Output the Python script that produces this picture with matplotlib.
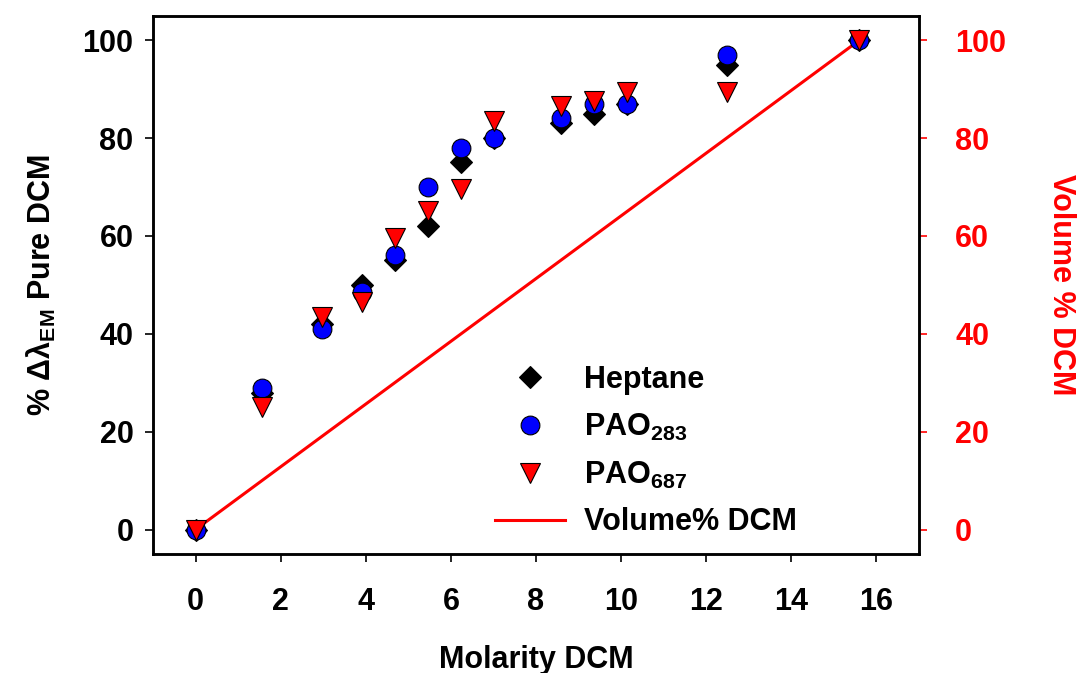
import matplotlib.pyplot as plt

plt.rcParams['font.family'] = ['Liberation Sans', 'DejaVu Sans']
plt.rcParams['font.weight'] = 'bold'
plt.rcParams['mathtext.default'] = 'regular'

# Datos
molaridad = [0, 1.56, 2.96, 3.9, 4.68, 5.46, 6.24, 7.02, 8.58, 9.36, 10.14, 12.48, 15.6]
heptano = [0, 28, 42, 50, 55, 62, 75, 80, 83, 85, 87, 95, 100]
pao283 = [0, 29, 41, 48.5, 56, 70, 78, 80, 84, 87, 87, 97, 100]
pao687 = [0, 25, 43.5, 46.5, 59.5, 65, 69.5, 83.5, 86.5, 87.5, 89.5, 89.5, 100]
vol_x = [0, 15.6]
vol_pct = [0, 100]

fig = plt.figure(figsize=(10.82, 6.73), dpi=100)
ax = fig.add_axes([0.1414, 0.1768, 0.708, 0.7999])
ax2 = ax.twinx()
ax.set_zorder(ax2.get_zorder() + 1)
ax.patch.set_visible(False)

linea, = ax2.plot(vol_x, vol_pct, color='red', lw=2.2, label='Volume% DCM')
h1, = ax.plot(molaridad, heptano, 'D', ms=11.5, mfc='black', mec='black',
              mew=0.8, ls='none', label='Heptane')
h2, = ax.plot(molaridad, pao283, 'o', ms=13.5, mfc='#0000ff', mec='black',
              mew=0.8, ls='none', label='PAO$_{283}$')
h3, = ax.plot(molaridad, pao687, 'v', ms=14, mfc='red', mec='black',
              mew=0.8, ls='none', label='PAO$_{687}$')

ax.set_xlim(-1, 17)
ax.set_ylim(-5, 105)
ax2.set_ylim(-5, 105)
ax.set_xticks(range(0, 17, 2))
ax.set_yticks(range(0, 101, 20))
ax2.set_yticks(range(0, 101, 20))

for a in (ax, ax2):
    for s in a.spines.values():
        s.set_linewidth(1.8)
ax.tick_params(axis='both', direction='out', length=6, width=1.2,
               labelsize=22, top=False, right=False)
ax.tick_params(axis='x', pad=18)
ax.tick_params(axis='y', pad=8)
ax2.tick_params(axis='y', direction='out', length=6, width=1.2,
                labelsize=22, pad=20, colors='red')

ax.set_xlabel('Molarity DCM', fontsize=22, fontweight='bold', labelpad=20)
ax.set_ylabel('% Δλ$_{EM}$ Pure DCM', fontsize=22, fontweight='bold', labelpad=18)
ax2.set_ylabel('Volume % DCM', fontsize=22, fontweight='bold', color='red',
               rotation=270, labelpad=50)

ax.legend(handles=[h1, h2, h3, linea], loc='upper left',
          bbox_to_anchor=(0.426, 0.38), frameon=False, fontsize=22,
          handlelength=2.3, handletextpad=0.62, labelspacing=0.55,
          borderpad=0)

plt.savefig('out.png', dpi=100)
